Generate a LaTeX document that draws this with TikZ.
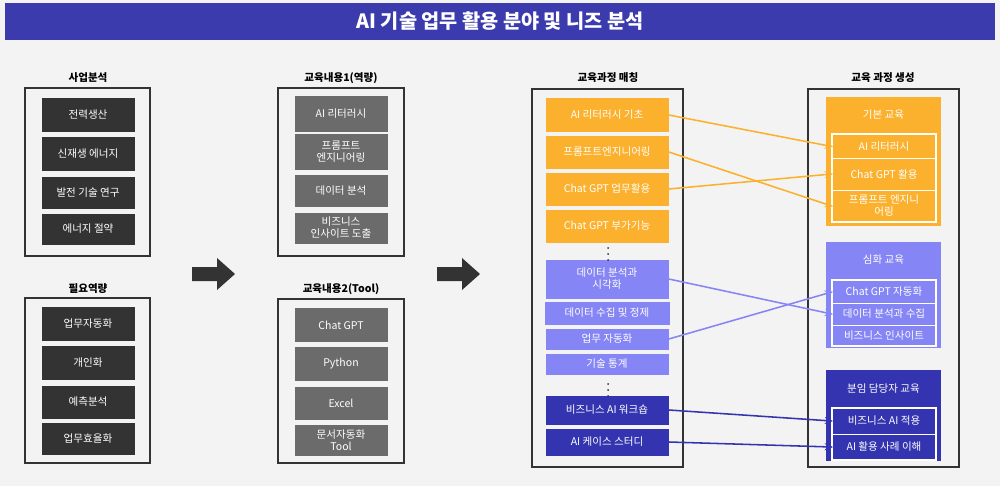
\documentclass[tikz,border=0pt]{standalone}
\usepackage{fontspec}
\setmainfont{Noto Sans CJK KR}
\usetikzlibrary{arrows.meta}

\definecolor{bg}{HTML}{F3F3F3}
\definecolor{titleblue}{HTML}{3B3BAE}
\definecolor{boxdark}{HTML}{333333}
\definecolor{boxgray}{HTML}{6B6B6B}
\definecolor{orng}{HTML}{FBB12E}
\definecolor{lilac}{HTML}{8585F5}
\definecolor{navy}{HTML}{3434B0}

\tikzset{
    frame/.style = {draw = boxdark, line width = 1.2pt},
    head/.style = {font = \fontsize{7.5}{9}\selectfont\bfseries, text = black},
    cell/.style = {inner sep = 0pt, align = center, text = white,
        font = \fontsize{7.5}{8.5}\selectfont},
    link/.style = {line width = 1.1pt, shorten > = -1pt, -{Stealth[length = 6pt, width = 5pt]}}
}

\begin{document}
\begin{tikzpicture}[x = 0.025cm, y = -0.025cm]
    \fill[bg] (0, 0) rectangle (1000, 486);
    \useasboundingbox (0, 0) rectangle (1000, 486);

    % title
    \fill[titleblue] (5, 3) rectangle (995, 40);
    \node[text = white, font = \fontsize{14}{16}\selectfont\bfseries] (title) at (500, 21) {AI 기술 업무 활용 분야 및 니즈 분석};

    % business analysis and required skills
    \draw[frame] (25, 88) rectangle (150, 256);
    \node[head] (biz) at (88, 78) {사업분석};
    \node[cell, fill = boxdark, minimum width = 93*0.025cm, minimum height = 34*0.025cm] (b1) at (88, 115) {전력생산};
    \node[cell, fill = boxdark, minimum width = 93*0.025cm, minimum height = 34*0.025cm] (b2) at (88, 154) {신재생 에너지};
    \node[cell, fill = boxdark, minimum width = 93*0.025cm, minimum height = 32*0.025cm] (b3) at (88, 193) {발전 기술 연구};
    \node[cell, fill = boxdark, minimum width = 93*0.025cm, minimum height = 31*0.025cm] (b4) at (88, 229) {에너지 절약};

    \draw[frame] (25, 298) rectangle (150, 463);
    \node[head] (need) at (88, 289) {필요역량};
    \node[cell, fill = boxdark, minimum width = 93*0.025cm, minimum height = 34*0.025cm] (n1) at (88, 324) {업무자동화};
    \node[cell, fill = boxdark, minimum width = 93*0.025cm, minimum height = 34*0.025cm] (n2) at (88, 363) {개인화};
    \node[cell, fill = boxdark, minimum width = 93*0.025cm, minimum height = 33*0.025cm] (n3) at (88, 402) {예측분석};
    \node[cell, fill = boxdark, minimum width = 93*0.025cm, minimum height = 32*0.025cm] (n4) at (88, 439) {업무효율화};

    % block arrows
    \fill[boxdark] (192, 267) -- (217, 267) -- (217, 258) -- (235, 274) -- (217, 290) -- (217, 281) -- (192, 281) -- cycle;
    \fill[boxdark] (437, 267) -- (462, 267) -- (462, 258) -- (480, 274) -- (462, 290) -- (462, 281) -- (437, 281) -- cycle;

    % course contents
    \draw[frame] (278, 88) rectangle (404, 256);
    \node[head] (edu1) at (341, 78) {교육내용1(역량)};
    \node[cell, fill = boxgray, minimum width = 93*0.025cm, minimum height = 35*0.025cm] (e1) at (341, 114) {AI 리터러시};
    \node[cell, fill = boxgray, minimum width = 93*0.025cm, minimum height = 36*0.025cm] (e2) at (341, 152) {프롬프트\\엔지니어링};
    \node[cell, fill = boxgray, minimum width = 93*0.025cm, minimum height = 32*0.025cm] (e3) at (341, 191) {데이터 분석};
    \node[cell, fill = boxgray, minimum width = 93*0.025cm, minimum height = 31*0.025cm] (e4) at (341, 228) {비즈니스\\인사이트 도출};

    \draw[frame] (278, 299) rectangle (404, 463);
    \node[head] (edu2) at (341, 289) {교육내용2(Tool)};
    \node[cell, fill = boxgray, minimum width = 93*0.025cm, minimum height = 34*0.025cm] (t1) at (341, 325) {Chat GPT};
    \node[cell, fill = boxgray, minimum width = 93*0.025cm, minimum height = 34*0.025cm] (t2) at (341, 364) {Python};
    \node[cell, fill = boxgray, minimum width = 93*0.025cm, minimum height = 33*0.025cm] (t3) at (341, 403) {Excel};
    \node[cell, fill = boxgray, minimum width = 93*0.025cm, minimum height = 31*0.025cm] (t4) at (341, 440) {문서자동화\\Tool};

    % curriculum matching
    \draw[frame] (532, 89) rectangle (683, 467);
    \node[head] (match) at (608, 78) {교육과정 매칭};
    \node[cell, fill = orng, minimum width = 123*0.025cm, minimum height = 34*0.025cm] (m1) at (607, 115) {AI 리터러시 기초};
    \node[cell, fill = orng, minimum width = 123*0.025cm, minimum height = 33*0.025cm] (m2) at (607, 152) {프롬프트엔지니어링};
    \node[cell, fill = orng, minimum width = 123*0.025cm, minimum height = 33*0.025cm] (m3) at (607, 189) {Chat GPT 업무활용};
    \node[cell, fill = orng, minimum width = 123*0.025cm, minimum height = 33*0.025cm] (m4) at (607, 226) {Chat GPT 부가기능};
    \node[cell, fill = lilac, minimum width = 123*0.025cm, minimum height = 39*0.025cm] (m5) at (607, 279) {데이터 분석과\\시각화};
    \node[cell, fill = lilac, minimum width = 125*0.025cm, minimum height = 23*0.025cm] (m6) at (607, 313) {데이터 수집 및 정제};
    \node[cell, fill = lilac, minimum width = 123*0.025cm, minimum height = 21*0.025cm] (m7) at (607, 339) {업무 자동화};
    \node[cell, fill = lilac, minimum width = 123*0.025cm, minimum height = 21*0.025cm] (m8) at (607, 364) {기술 통계};
    \node[cell, fill = navy, minimum width = 123*0.025cm, minimum height = 29*0.025cm] (m9) at (607, 410) {비즈니스 AI 워크숍};
    \node[cell, fill = navy, minimum width = 123*0.025cm, minimum height = 27*0.025cm] (m10) at (607, 442) {AI 케이스 스터디};
    \foreach \y in {248, 254, 260, 384, 390, 396}
        \fill[boxdark] (608, \y) circle (1);

    % course creation
    \draw[frame] (808, 89) rectangle (959, 467);
    \node[head] (make) at (883, 78) {교육 과정 생성};

    \node[cell, fill = orng, minimum width = 115*0.025cm, minimum height = 129*0.025cm] (basic) at (883.5, 161.5) {};
    \node[cell] (basict) at (883.5, 115) {기본 교육};
    \draw[white, line width = 1pt] (832, 134) rectangle (936, 222);
    \node[cell, minimum width = 104*0.025cm, minimum height = 23*0.025cm] (c1) at (884, 146.5) {AI 리터러시};
    \node[cell, minimum width = 104*0.025cm, minimum height = 31*0.025cm] (c2) at (884, 174) {Chat GPT 활용};
    \node[cell, minimum width = 104*0.025cm, minimum height = 31*0.025cm] (c3) at (884, 206) {프롬프트 엔지니\\어링};
    \draw[white, line width = 0.6pt] (832, 158) -- (936, 158) (832, 190) -- (936, 190);

    \node[cell, fill = lilac, minimum width = 115*0.025cm, minimum height = 106*0.025cm] (deep) at (883.5, 295) {};
    \node[cell] (deept) at (883.5, 260) {심화 교육};
    \draw[white, line width = 1pt] (832, 280) rectangle (936, 346);
    \node[cell, minimum width = 104*0.025cm, minimum height = 22*0.025cm] (d1) at (884, 292) {Chat GPT 자동화};
    \node[cell, minimum width = 104*0.025cm, minimum height = 22*0.025cm] (d2) at (884, 314) {데이터 분석과 수집};
    \node[cell, minimum width = 104*0.025cm, minimum height = 20*0.025cm] (d3) at (884, 335.5) {비즈니스 인사이트};
    \draw[white, line width = 0.6pt] (832, 303) -- (936, 303) (832, 325) -- (936, 325);

    \node[cell, fill = navy, minimum width = 115*0.025cm, minimum height = 91*0.025cm] (lead) at (883.5, 415.5) {};
    \node[cell] (leadt) at (883.5, 389) {분임 담당자 교육};
    \draw[white, line width = 1pt] (832, 408) rectangle (936, 460);
    \node[cell, minimum width = 104*0.025cm, minimum height = 25*0.025cm] (l1) at (884, 421) {비즈니스 AI 적용};
    \node[cell, minimum width = 104*0.025cm, minimum height = 26*0.025cm] (l2) at (884, 447) {AI 활용 사례 이해};
    \draw[white, line width = 0.6pt] (832, 434) -- (936, 434);

    % links
    \draw[link, orng] (m1.east) -- (c1.west);
    \draw[link, orng] (m2.east) -- (c3.west);
    \draw[link, orng] (m3.east) -- (c2.west);
    \draw[link, lilac] (m5.east) -- (d2.west);
    \draw[link, lilac] (m7.east) -- (d1.west);
    \draw[link, navy] (m9.east) -- (l1.west);
    \draw[link, navy] (m10.east) -- (l2.west);
\end{tikzpicture}
\end{document}
